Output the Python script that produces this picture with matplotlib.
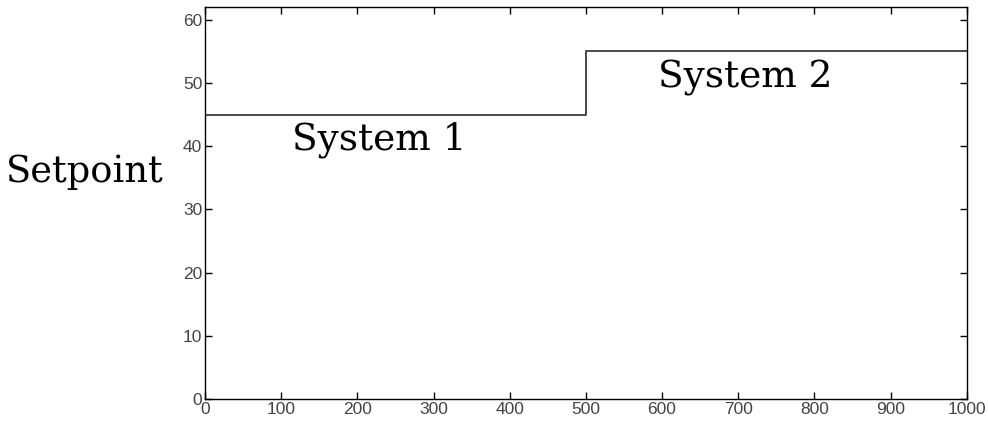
import matplotlib.pyplot as plt
import numpy as np

# setpoint schedule
t = [0, 500, 1000]
setpoint = [45, 55, 55]
xticks = [0, 100, 200, 300, 400, 500, 600, 700, 800, 900, 1000]
yticks = [0, 10, 20, 30, 40, 50, 60]

fig = plt.figure(figsize=(9.88, 4.21), dpi=100)
ax = fig.add_axes([0.2075, 0.0523, 0.771, 0.931])

ax.plot(t, setpoint, drawstyle="steps-post", color="#3a3a3a", lw=1.3)

ax.set_xlim(0, 1000)
ax.set_ylim(0, 62)
ax.set_xticks(xticks)
ax.set_yticks(yticks)
ax.tick_params(direction="in", length=5, width=1, labelsize=12.5,
               labelcolor="#444444", pad=2, top=True, right=True)
for lab in ax.get_xticklabels() + ax.get_yticklabels():
    lab.set_family("Liberation Sans")
for sp in ax.spines.values():
    sp.set_linewidth(1)

serif = "DejaVu Serif"
ax.text(229, 41, "System 1", fontsize=27, family=serif, ha="center", va="center")
ax.text(709, 50.8, "System 2", fontsize=27, family=serif, ha="center", va="center")
fig.text(85 / 988, 1 - 172 / 421, "Setpoint", fontsize=26.5, family=serif,
         ha="center", va="center")

fig.savefig("out.png", dpi=100)
